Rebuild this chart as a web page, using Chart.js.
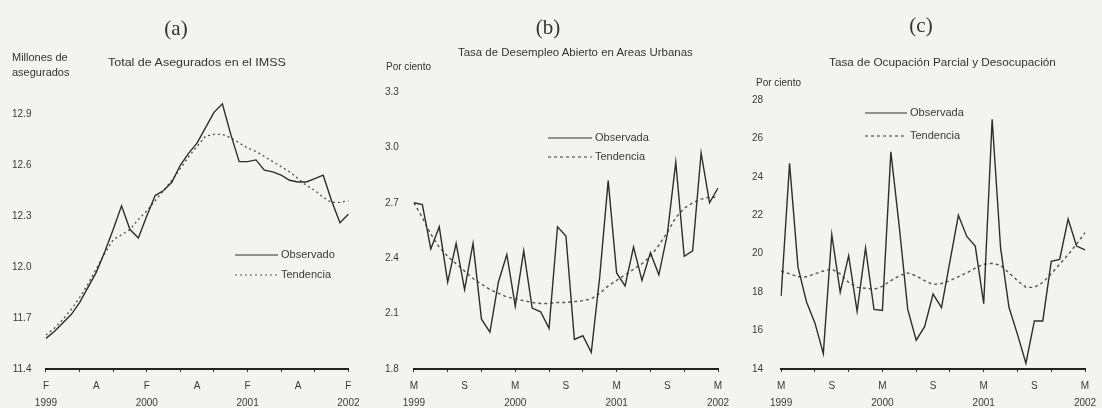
<!DOCTYPE html>
<html lang="es">
<head>
<meta charset="utf-8">
<title>Empleo en México 1999-2002</title>
<script src="https://cdn.jsdelivr.net/npm/chart.js@4.4.1/dist/chart.umd.min.js"></script>
<style>
  html, body { margin: 0; padding: 0; background: #f3f3f1; overflow: hidden; }
  #wrap { position: relative; width: 1102px; height: 408px; font-family: Arial, "Liberation Sans", sans-serif; color: #333; }
  canvas { position: absolute; top: 0; }
  .letra { position: absolute; font-family: "Liberation Serif", "DejaVu Serif", serif; font-size: 21px; line-height: 24px; transform: translateX(-50%); }
  .titulo { position: absolute; font-size: 10.5px; line-height: 12px; white-space: nowrap; transform-origin: 0 50%; }
  .unidad { position: absolute; font-size: 10px; line-height: 15px; white-space: nowrap; transform-origin: 0 50%; }
</style>
</head>
<body>
<div id="wrap">
  <canvas id="chartA" width="375" height="417" style="left:-10px"></canvas>
  <canvas id="chartB" width="375" height="417" style="left:360px"></canvas>
  <canvas id="chartC" width="378" height="417" style="left:724px"></canvas>

  <div class="letra" style="left:176px; top:16px">(a)</div>
  <div class="titulo" style="left:108px; top:56px; transform:scaleX(1.19)">Total de Asegurados en el IMSS</div>
  <div class="unidad" style="left:12px; top:50px; transform:scaleX(1.1)">Millones de<br>asegurados</div>

  <div class="letra" style="left:548px; top:15px">(b)</div>
  <div class="titulo" style="left:458px; top:46px; transform:scaleX(1.09)">Tasa de Desempleo Abierto en Areas Urbanas</div>
  <div class="unidad" style="left:386px; top:59px">Por ciento</div>

  <div class="letra" style="left:921px; top:13px">(c)</div>
  <div class="titulo" style="left:829px; top:56px; transform:scaleX(1.12)">Tasa de Ocupación Parcial y Desocupación</div>
  <div class="unidad" style="left:756px; top:75px">Por ciento</div>
</div>

<script>
// meses
var mesesA = ['feb-99','mar-99','abr-99','may-99','jun-99','jul-99','ago-99','sep-99','oct-99','nov-99','dic-99','ene-00',
              'feb-00','mar-00','abr-00','may-00','jun-00','jul-00','ago-00','sep-00','oct-00','nov-00','dic-00','ene-01',
              'feb-01','mar-01','abr-01','may-01','jun-01','jul-01','ago-01','sep-01','oct-01','nov-01','dic-01','ene-02',
              'feb-02'];
var mesesBC = ['mar-99','abr-99','may-99','jun-99','jul-99','ago-99','sep-99','oct-99','nov-99','dic-99','ene-00','feb-00',
               'mar-00','abr-00','may-00','jun-00','jul-00','ago-00','sep-00','oct-00','nov-00','dic-00','ene-01','feb-01',
               'mar-01','abr-01','may-01','jun-01','jul-01','ago-01','sep-01','oct-01','nov-01','dic-01','ene-02','feb-02',
               'mar-02'];

// etiquetas del eje x (cada 6 meses)
var etiquetasA = [['F','1999'],['A'],['F','2000'],['A'],['F','2001'],['A'],['F','2002']];
var etiquetasBC = [['M','1999'],['S'],['M','2000'],['S'],['M','2001'],['S'],['M','2002']];

// (a) asegurados IMSS, millones
var observadoA = [11.58, 11.62, 11.67, 11.72, 11.79, 11.88, 11.97, 12.09, 12.22, 12.36, 12.22, 12.17, 12.30,
                  12.42, 12.45, 12.50, 12.60, 12.67, 12.73, 12.82, 12.91, 12.96, 12.78, 12.62, 12.62, 12.63,
                  12.57, 12.56, 12.54, 12.51, 12.50, 12.50, 12.52, 12.54, 12.39, 12.26, 12.31];
var tendenciaA = [11.60, 11.64, 11.69, 11.75, 11.82, 11.90, 11.99, 12.08, 12.16, 12.19, 12.22, 12.28, 12.33,
                  12.39, 12.45, 12.51, 12.58, 12.65, 12.71, 12.77, 12.78, 12.78, 12.76, 12.73, 12.70, 12.68,
                  12.65, 12.62, 12.59, 12.56, 12.52, 12.48, 12.45, 12.41, 12.38, 12.38, 12.39];
var ticksYA = [11.4, 11.7, 12.0, 12.3, 12.6, 12.9];

// (b) desempleo abierto, %
var observadaB = [2.70, 2.69, 2.45, 2.57, 2.27, 2.48, 2.23, 2.48, 2.07, 2.00, 2.27, 2.42, 2.14,
                  2.44, 2.13, 2.11, 2.02, 2.57, 2.52, 1.96, 1.98, 1.89, 2.30, 2.82, 2.32, 2.25,
                  2.46, 2.28, 2.43, 2.31, 2.53, 2.92, 2.41, 2.44, 2.97, 2.70, 2.78];
var tendenciaB = [2.70, 2.62, 2.53, 2.46, 2.41, 2.37, 2.33, 2.29, 2.26, 2.23, 2.21, 2.19, 2.18,
                  2.17, 2.16, 2.155, 2.155, 2.16, 2.16, 2.165, 2.17, 2.18, 2.21, 2.25, 2.28, 2.31,
                  2.34, 2.37, 2.41, 2.47, 2.54, 2.62, 2.67, 2.70, 2.72, 2.73, 2.73];
var ticksYB = [1.8, 2.1, 2.4, 2.7, 3.0, 3.3];

// (c) ocupacion parcial y desocupacion, %
var observadaC = [17.8, 24.7, 19.3, 17.5, 16.4, 14.8, 21.0, 18.0, 19.9, 17.0, 20.3, 17.1, 17.05,
                  25.3, 21.4, 17.1, 15.5, 16.2, 17.9, 17.2, 19.6, 22.0, 20.9, 20.4, 17.4, 27.0,
                  20.3, 17.2, 15.8, 14.3, 16.5, 16.5, 19.6, 19.7, 21.8, 20.4, 20.2];
var tendenciaC = [19.1, 18.95, 18.8, 18.8, 18.95, 19.1, 19.2, 18.95, 18.5, 18.25, 18.2, 18.15, 18.3,
                  18.6, 18.85, 19.0, 18.85, 18.6, 18.4, 18.45, 18.6, 18.8, 19.0, 19.25, 19.45, 19.5,
                  19.4, 19.0, 18.6, 18.25, 18.25, 18.5, 18.95, 19.45, 19.95, 20.5, 21.1];
var ticksYC = [14, 16, 18, 20, 22, 24, 26, 28];

var colorLinea = '#2e2e2e';
var colorTexto = '#3a3a3a';

// leyenda dibujada dentro del area del grafico
var leyendaPlugin = {
    id: 'leyendaInterna',
    afterDraw: function (chart, args, opts) {
        var ctx = chart.ctx;
        ctx.save();
        ctx.font = '11px Arial, "Liberation Sans", sans-serif';
        ctx.fillStyle = colorTexto;
        ctx.textBaseline = 'middle';
        chart.data.datasets.forEach(function (ds, i) {
            var y = opts.y + i * opts.gap;
            ctx.strokeStyle = ds.borderColor;
            ctx.lineWidth = 1.2;
            ctx.setLineDash(ds.borderDash || []);
            ctx.beginPath();
            ctx.moveTo(opts.x, y);
            ctx.lineTo(opts.x + opts.largo, y);
            ctx.stroke();
            ctx.fillText(ds.label, opts.x + opts.largo + 3, y);
        });
        ctx.restore();
    }
};

function crearGrafico(id, meses, etiquetas, series, nombres, guion, ejeY, leyenda, padding) {
    var ctx = document.getElementById(id).getContext('2d');
    return new Chart(ctx, {
        type: 'line',
        data: {
            labels: meses,
            datasets: [{
                label: nombres[0],
                data: series[0],
                borderColor: colorLinea,
                borderWidth: 1.4,
                pointRadius: 0,
                tension: 0
            }, {
                label: nombres[1],
                data: series[1],
                borderColor: '#555',
                borderWidth: 1.4,
                borderDash: guion,
                pointRadius: 0,
                tension: 0
            }]
        },
        options: {
            responsive: false,
            animation: false,
            layout: { padding: padding },
            plugins: {
                legend: { display: false },
                tooltip: { enabled: false },
                leyendaInterna: leyenda
            },
            scales: {
                x: {
                    offset: false,
                    grid: {
                        drawOnChartArea: false,
                        tickLength: 3,
                        tickColor: function (c) { return c.index % 4 === 0 ? '#333' : 'rgba(0,0,0,0)'; }
                    },
                    border: { display: true, color: '#222', width: 2 },
                    ticks: {
                        autoSkip: false,
                        maxRotation: 0,
                        padding: 5.5,
                        color: colorTexto,
                        font: { size: 10, lineHeight: 1.7 },
                        callback: function (val, i) {
                            return i % 6 === 0 ? etiquetas[i / 6] : '';
                        }
                    }
                },
                y: {
                    min: ejeY.min,
                    max: ejeY.max,
                    grid: { display: false, drawTicks: false },
                    border: { display: false },
                    afterBuildTicks: function (scale) {
                        scale.ticks = ejeY.ticks.map(function (v) { return { value: v }; });
                    },
                    ticks: {
                        padding: ejeY.pad,
                        color: colorTexto,
                        font: { size: 10 },
                        callback: function (v) { return ejeY.dec ? v.toFixed(1) : v; }
                    }
                }
            }
        },
        plugins: [leyendaPlugin]
    });
}

crearGrafico('chartA', mesesA, etiquetasA, [observadoA, tendenciaA], ['Observado', 'Tendencia'], [2, 3],
    { min: 11.4, max: 13.0, ticks: ticksYA, dec: true, pad: 14.5 },
    { x: 245, y: 255, gap: 20, largo: 43 },
    { left: 7.5, right: 16, top: 97, bottom: 0 });

crearGrafico('chartB', mesesBC, etiquetasBC, [observadaB, tendenciaB], ['Observada', 'Tendencia'], [3, 3],
    { min: 1.8, max: 3.3, ticks: ticksYB, dec: true, pad: 15 },
    { x: 188, y: 138, gap: 19, largo: 44 },
    { left: 10, right: 17, top: 92, bottom: 0 });

crearGrafico('chartC', mesesBC, etiquetasBC, [observadaC, tendenciaC], ['Observada', 'Tendencia'], [3, 3],
    { min: 14, max: 28, ticks: ticksYC, dec: false, pad: 18 },
    { x: 141, y: 113, gap: 23, largo: 42 },
    { left: 10, right: 17, top: 100, bottom: 0 });
</script>
</body>
</html>
